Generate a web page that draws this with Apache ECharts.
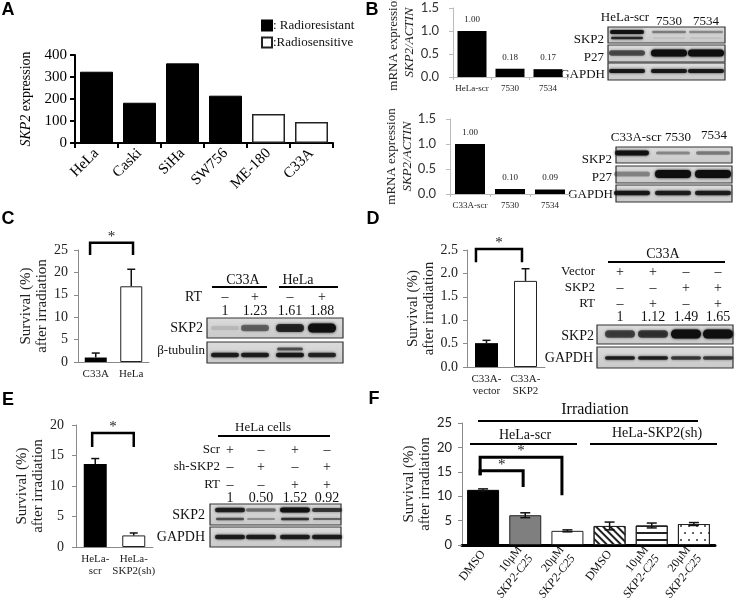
<!DOCTYPE html>
<html><head><meta charset="utf-8">
<script src="https://cdn.jsdelivr.net/npm/echarts@6/dist/echarts.min.js"></script>
<style>html,body{margin:0;padding:0;background:#fff}#c{width:737px;height:598px}</style>
</head><body><div id="c"></div><script>
// ---------------- data ----------------
const aCells = ['HeLa','Caski','SiHa','SW756','ME-180','C33A'];
const aResistant = [324, 183, 362, 215, '-', '-'];
const aSensitive = ['-', '-', '-', '-', 132, 95];

const b1Cats = ['HeLa-scr','7530','7534'];
const b1Vals = [1.00, 0.18, 0.17];
const b2Cats = ['C33A-scr','7530','7534'];
const b2Vals = [1.00, 0.10, 0.09];

const cCats = ['C33A','HeLa'];
const cVals = [1.0, 16.9];
const cErr  = [1.0, 3.8];

const dCats = ['C33A-\nvector','C33A-\nSKP2'];
const dVals = [0.51, 1.84];
const dErr  = [0.06, 0.26];

const eCats = ['HeLa-\nscr','HeLa-\nSKP2(sh)'];
const eVals = [13.6, 1.9];
const eErr  = [0.9, 0.4];

const fCats = ['DMSO','10μM|SKP2-C25','20μM|SKP2-C25','DMSO ','10μM|SKP2-C25 ','20μM|SKP2-C25  '];
const fVals = [11.3, 6.1, 2.9, 3.9, 4.0, 4.3];
const fErr  = [0.2, 0.5, 0.2, 0.8, 0.5, 0.3];

// significance brackets: [cat1, cat2, top, leg1, leg2, offset1, offset2]
const cSig = [[0, 1, 26.6, 23.9, 23.9, -0.16, 0.05]];
const dSig = [[0, 1, 2.52, 2.24, 2.24, -0.27, -0.09]];
const eSig = [[0, 1, 18.7, 16.4, 16.4, -0.08, 0.0]];
const fSig = [[0, 2, 18.0, 14.3, 10.2, -0.07, -0.13], [0, 1, 15.2, 14.3, 11.9, -0.07, -0.05]];

// western blot annotations
const b1Lanes = ['HeLa-scr','7530','7534'];
const b2Lanes = ['C33A-scr','7530','7534'];
const cGroups = ['C33A','HeLa'];
const cRT = ['–','+','–','+'];
const cQuant = ['1','1.23','1.61','1.88'];
const dVector = ['+','+','–','–'];
const dSKP2 = ['–','–','+','+'];
const dRT = ['–','+','–','+'];
const dQuant = ['1','1.12','1.49','1.65'];
const eScr = ['+','–','+','–'];
const eSh = ['–','+','–','+'];
const eRT = ['–','–','+','+'];
const eQuant = ['1','0.50','1.52','0.92'];

// band intensities (0-1)
const b1SKP2 = [0.95, 0.4, 0.35], b1SKP2low = [0.8, 0.08, 0.08], b1P27 = [0.6, 1, 1], b1GAPDH = [0.9, 0.9, 0.9];
const b2SKP2 = [0.95, 0.35, 0.4], b2P27 = [0.35, 1, 1], b2GAPDH = [0.9, 0.85, 0.85];
const cSKP2b = [0.12, 0.5, 0.8, 1], cTub = [0.85, 0.85, 0.9, 0.8], cTubUp = [0, 0, 0.6, 0];
const dSKP2b = [0.65, 0.7, 1, 1], dGAPDH = [0.85, 0.85, 0.7, 0.7];
const eSKP2up = [0.85, 0.45, 0.95, 0.7], eSKP2low = [0.6, 0.3, 0.75, 0.5], eGAPDH = [0.85, 0.85, 0.85, 0.85];

// ---------------- style ----------------
const SERIF = '"Liberation Serif","Times New Roman",serif';
const SANS = 'Lato,"Liberation Sans",sans-serif';
const BOLD = '"Liberation Sans",Arial,sans-serif';

function grid(l, t, w, h) { return {left: l, top: t, width: w, height: h, containLabel: false, outerBoundsMode: 'none'}; }

const grids = [
  grid(75, 55, 258, 88),    // A
  grid(453, 8, 114, 69),    // B1
  grid(450, 119, 120, 75),  // B2
  grid(78, 250, 71, 112),   // C
  grid(467, 250, 78, 117),  // D
  grid(76, 425, 77, 122),   // E
  grid(462, 423, 253, 122)  // F
];

const gray = '#8a8a8a';
function xCat(gi, data, extra) {
  return Object.assign({type: 'category', gridIndex: gi, data: data,
    axisLine: {lineStyle: {color: gray, width: 1}},
    axisTick: {show: false},
    axisLabel: {fontFamily: SERIF, fontSize: 11, color: '#222', margin: 6, lineHeight: 12, interval: 0}
  }, extra || {});
}
function yVal(gi, min, max, interval, extra) {
  return Object.assign({type: 'value', gridIndex: gi, min: min, max: max, interval: interval,
    splitLine: {show: false},
    axisLine: {show: true, lineStyle: {color: gray, width: 1}},
    axisTick: {show: true, length: 4, lineStyle: {color: gray}},
    axisLabel: {fontFamily: SERIF, fontSize: 14, color: '#222', margin: 8}
  }, extra || {});
}
const survName = {
  name: 'Survival (%)\nafter irradiation', nameLocation: 'middle', nameRotate: 90,
  nameTextStyle: {fontFamily: SERIF, fontSize: 15, color: '#222', lineHeight: 16}
};

const xAxes = [
  xCat(0, aCells, {
    axisLine: {lineStyle: {color: '#000', width: 2}},
    axisTick: {show: true, length: 5, lineStyle: {color: '#000', width: 2}},
    axisLabel: {fontFamily: SERIF, fontSize: 15, color: '#000', rotate: 45, margin: 8, interval: 0}
  }),
  xCat(1, b1Cats, {axisLine: {lineStyle: {color: '#bbb'}}, axisTick: {show: true, length: 3, lineStyle: {color: '#bbb'}},
    axisLabel: {fontFamily: SERIF, fontSize: 9, color: '#222', margin: 7, interval: 0}}),
  xCat(2, b2Cats, {axisLine: {lineStyle: {color: '#bbb'}}, axisTick: {show: true, length: 3, lineStyle: {color: '#bbb'}},
    axisLabel: {fontFamily: SERIF, fontSize: 9, color: '#222', margin: 7, interval: 0}}),
  xCat(3, cCats),
  xCat(4, dCats),
  xCat(5, eCats),
  xCat(6, fCats, {
    axisLine: {lineStyle: {color: '#000', width: 3}},
    axisLabel: {rotate: 52, margin: 7, interval: 0,
      formatter: v => { const p = v.trim().split('|'); return p.length > 1 ? '{n|' + p[0] + '}\n{i|' + p[1] + '}' : '{n|' + p[0] + '}'; },
      rich: {n: {fontFamily: SERIF, fontSize: 12, color: '#111', lineHeight: 14}, i: {fontFamily: SERIF, fontSize: 12, fontStyle: 'italic', color: '#111', lineHeight: 14}}}
  })
];

const yAxes = [
  yVal(0, 0, 400, 100, {
    axisLine: {show: true, lineStyle: {color: '#000', width: 2}},
    axisTick: {show: true, length: 5, lineStyle: {color: '#000', width: 2}},
    axisLabel: {fontFamily: SERIF, fontSize: 15, color: '#000', margin: 8},
    name: '{i|SKP2} {n|expression}', nameLocation: 'middle', nameRotate: 90, nameGap: 42,
    nameTextStyle: {rich: {i: {fontFamily: SERIF, fontSize: 14, fontStyle: 'italic', color: '#000'}, n: {fontFamily: SERIF, fontSize: 14, color: '#000'}}}
  }),
  yVal(1, 0, 1.5, 0.5, {
    axisLine: {show: true, lineStyle: {color: '#bbb'}}, axisTick: {show: true, length: 4, lineStyle: {color: '#bbb'}},
    axisLabel: {fontFamily: SANS, fontSize: 13, color: '#333', margin: 14, formatter: v => v.toFixed(1)},
    name: '{n|mRNA expression}\n{i|SKP2/ACTIN}', nameLocation: 'middle', nameRotate: 90, nameGap: 35,
    nameTextStyle: {rich: {n: {fontFamily: SERIF, fontSize: 13, color: '#222', lineHeight: 16}, i: {fontFamily: SERIF, fontSize: 13, fontStyle: 'italic', color: '#222', lineHeight: 16}}}
  }),
  yVal(2, 0, 1.5, 0.5, {
    axisLine: {show: true, lineStyle: {color: '#bbb'}}, axisTick: {show: true, length: 4, lineStyle: {color: '#bbb'}},
    axisLabel: {fontFamily: SANS, fontSize: 13, color: '#333', margin: 14, formatter: v => v.toFixed(1)},
    name: '{n|mRNA expression}\n{i|SKP2/ACTIN}', nameLocation: 'middle', nameRotate: 90, nameGap: 33,
    nameTextStyle: {rich: {n: {fontFamily: SERIF, fontSize: 13, color: '#222', lineHeight: 16}, i: {fontFamily: SERIF, fontSize: 13, fontStyle: 'italic', color: '#222', lineHeight: 16}}}
  }),
  yVal(3, 0, 25, 5, Object.assign({nameGap: 26, axisLabel: {fontFamily: SERIF, fontSize: 14, color: '#222', margin: 10}}, survName)),
  yVal(4, 0, 2.5, 0.5, Object.assign({nameGap: 28, axisLabel: {fontFamily: SERIF, fontSize: 14, color: '#222', margin: 9, formatter: v => v.toFixed(1)}}, survName)),
  yVal(5, 0, 20, 5, Object.assign({nameGap: 28, axisLabel: {fontFamily: SERIF, fontSize: 14, color: '#222', margin: 12}}, survName)),
  yVal(6, 0, 25, 5, Object.assign({nameGap: 26, axisLabel: {fontFamily: SANS, fontSize: 13, color: '#222', margin: 10}}, survName))
];

// ---------------- helpers ----------------
function errorSeries(gi, vals, errs, twoSided, cap) {
  return {type: 'custom', xAxisIndex: gi, yAxisIndex: gi, z: 3, silent: true,
    data: vals.map((v, i) => [i, v, errs[i]]),
    renderItem(params, api) {
      const i = api.value(0), v = api.value(1), e = api.value(2);
      const top = api.coord([i, v + e]);
      const base = api.coord([i, twoSided ? v - e : v]);
      const st = {stroke: '#111', lineWidth: 1.5};
      const ch = [
        {type: 'line', shape: {x1: top[0], y1: top[1], x2: base[0], y2: base[1]}, style: st},
        {type: 'line', shape: {x1: top[0] - cap, y1: top[1], x2: top[0] + cap, y2: top[1]}, style: st}
      ];
      if (twoSided) ch.push({type: 'line', shape: {x1: base[0] - cap, y1: base[1], x2: base[0] + cap, y2: base[1]}, style: st});
      return {type: 'group', children: ch};
    }};
}
function bracketSeries(gi, items, lw) {
  return {type: 'custom', xAxisIndex: gi, yAxisIndex: gi, z: 4, clip: false, silent: true,
    data: items,
    renderItem(params, api) {
      const i1 = api.value(0), i2 = api.value(1), top = api.value(2), l1 = api.value(3), l2 = api.value(4), o1 = api.value(5), o2 = api.value(6);
      const bw = api.size([1, 0])[0];
      const a = api.coord([i1, top]), ab = api.coord([i1, l1]);
      const b = api.coord([i2, top]), bb = api.coord([i2, l2]);
      const x1 = a[0] + o1 * bw, x2 = b[0] + o2 * bw;
      return {type: 'group', children: [
        {type: 'polyline', shape: {points: [[x1, ab[1]], [x1, a[1]], [x2, b[1]], [x2, bb[1]]]}, style: {stroke: '#000', lineWidth: lw, fill: null}},
        {type: 'text', x: (x1 + x2) / 2, y: a[1] - 6, style: {text: '*', font: '15px ' + SERIF, fill: '#222', align: 'center', verticalAlign: 'middle'}}
      ]};
    }};
}
const blackItem = {color: '#000'};
const whiteItem = {color: '#fff', borderColor: '#222', borderWidth: 1};

// ---------------- graphics (blots & annotations) ----------------
const G = [];
function txt(t, x, y, size, align, extra) {
  G.push(Object.assign({type: 'text', x: x, y: y, silent: true,
    style: Object.assign({text: t, font: size + 'px ' + SERIF, fill: '#111', align: align || 'center', verticalAlign: 'middle'}, extra || {})}));
}
function hline(x1, x2, y, w) {
  G.push({type: 'line', silent: true, shape: {x1: x1, y1: y, x2: x2, y2: y}, style: {stroke: '#000', lineWidth: w || 2}});
}
function letter(t, x, y) {
  G.push({type: 'text', x: x, y: y, silent: true, style: {text: t, font: 'bold 18px ' + BOLD, fill: '#000', align: 'center', verticalAlign: 'middle'}});
}
function box(x, y, w, h) {
  G.push({type: 'rect', silent: true, shape: {x: x, y: y, width: w, height: h},
    style: {fill: new echarts.graphic.LinearGradient(0, 0, 0, 1, [{offset: 0, color: '#dcdcdc'}, {offset: 1, color: '#c9c9c9'}]), stroke: '#333', lineWidth: 1.2}});
}
function bands(lanes, y, vals, bw, th) {
  vals.forEach((v, i) => {
    if (v <= 0) return;
    const t = th * (0.45 + 0.55 * v);
    G.push({type: 'rect', silent: true, shape: {x: lanes[i] - bw / 2, y: y - t / 2, width: bw, height: t, r: t / 2},
      style: {fill: 'rgba(15,15,15,' + v + ')', shadowBlur: 3, shadowColor: 'rgba(15,15,15,' + v + ')'}});
  });
}

letter('A', 8, 10); letter('B', 372, 10); letter('C', 8, 219); letter('D', 373, 219); letter('E', 8, 400); letter('F', 374, 399);

// B blot 1
const b1X = [627, 669, 706];
txt(b1Lanes[0], 625, 18, 13); txt(b1Lanes[1], 669, 22, 13); txt(b1Lanes[2], 706, 22, 13);
box(608, 27, 117, 16); box(608, 45, 117, 17); box(608, 63, 117, 17);
bands(b1X, 32, b1SKP2, 34, 4); bands(b1X, 38, b1SKP2low, 32, 3);
bands(b1X, 53, b1P27, 36, 7); bands(b1X, 71, b1GAPDH, 36, 4);
txt('SKP2', 604, 40, 13, 'right'); txt('P27', 604, 58, 13, 'right'); txt('GAPDH', 605, 75, 13, 'right');

// B blot 2
const b2X = [632, 673, 713];
txt(b2Lanes[0], 636, 138, 13); txt(b2Lanes[1], 678, 138, 13); txt(b2Lanes[2], 714, 136, 13);
box(616, 147, 116, 16); box(616, 166, 116, 17); box(616, 185, 116, 17);
bands(b2X, 153, b2SKP2, 34, 5);
bands(b2X, 174, b2P27, 36, 8); bands(b2X, 193, b2GAPDH, 36, 5);
txt('SKP2', 612, 160, 13, 'right'); txt('P27', 612, 178, 13, 'right'); txt('GAPDH', 613, 195, 13, 'right');

// C blot
const cX = [225, 255, 290, 322];
txt(cGroups[0], 243, 280, 14); txt(cGroups[1], 298, 280, 14);
hline(212, 267, 287); hline(279, 338, 287);
txt('RT', 202, 297, 14, 'right');
cRT.forEach((s, i) => txt(s, cX[i], 297, 14));
cQuant.forEach((s, i) => txt(s, cX[i], 311, 14));
box(207, 318, 136, 20); box(207, 342, 136, 21);
bands(cX, 328, cSKP2b, 28, 9);
bands(cX, 355, cTub, 28, 5); bands(cX, 349, cTubUp, 26, 4);
txt('SKP2', 203, 328, 14, 'right'); txt('β-tubulin', 205, 351, 13, 'right');

// D blot
const dX = [620, 653, 686, 718];
txt('C33A', 663, 254, 14); hline(608, 725, 262);
txt('Vector', 595, 272, 13, 'right'); txt('SKP2', 595, 288, 13, 'right'); txt('RT', 595, 304, 13, 'right');
dVector.forEach((s, i) => txt(s, dX[i], 272, 14));
dSKP2.forEach((s, i) => txt(s, dX[i], 288, 14));
dRT.forEach((s, i) => txt(s, dX[i], 304, 14));
dQuant.forEach((s, i) => txt(s, dX[i], 317, 14));
box(597, 325, 136, 19); box(597, 347, 136, 21);
bands(dX, 334, dSKP2b, 30, 9); bands(dX, 358, dGAPDH, 30, 4);
txt('SKP2', 594, 336, 14, 'right'); txt('GAPDH', 593, 358, 14, 'right');

// E blot
const eX = [230, 261, 295, 327];
txt('HeLa cells', 263, 428, 13); hline(218, 330, 436);
txt('Scr', 220, 450, 13, 'right'); txt('sh-SKP2', 220, 467, 13, 'right'); txt('RT', 220, 485, 13, 'right');
eScr.forEach((s, i) => txt(s, eX[i], 450, 14));
eSh.forEach((s, i) => txt(s, eX[i], 467, 14));
eRT.forEach((s, i) => txt(s, eX[i], 485, 14));
eQuant.forEach((s, i) => txt(s, eX[i], 498, 14));
box(210, 504, 131, 21); box(210, 527, 131, 20);
bands(eX, 510, eSKP2up, 30, 5); bands(eX, 519, eSKP2low, 28, 3);
bands(eX, 537, eGAPDH, 30, 5);
txt('SKP2', 205, 515, 14, 'right'); txt('GAPDH', 205, 537, 14, 'right');

// F group annotations
txt('Irradiation', 595, 410, 16); hline(478, 698, 421);
txt('HeLa-scr', 525, 435, 14); hline(470, 577, 444);
txt('HeLa-SKP2(sh)', 657, 433, 14); hline(590, 717, 444);

// ---------------- series ----------------
const labelTop = {show: true, position: 'top', distance: 7, fontFamily: SERIF, fontSize: 9, color: '#222', formatter: p => p.value.toFixed(2)};
const series = [
  {type: 'bar', name: 'Radioresistant', xAxisIndex: 0, yAxisIndex: 0, data: aResistant, barWidth: 33, barGap: '-100%', itemStyle: {color: '#000', borderColor: '#000', borderWidth: 1}},
  {type: 'bar', name: 'Radiosensitive', xAxisIndex: 0, yAxisIndex: 0, data: aSensitive, barWidth: 33, barGap: '-100%', itemStyle: {color: '#fff', borderColor: '#222', borderWidth: 1.5}},
  {type: 'bar', xAxisIndex: 1, yAxisIndex: 1, data: b1Vals, barWidth: 29, itemStyle: blackItem, label: labelTop},
  {type: 'bar', xAxisIndex: 2, yAxisIndex: 2, data: b2Vals, barWidth: 30, itemStyle: blackItem, label: labelTop},
  {type: 'bar', xAxisIndex: 3, yAxisIndex: 3, barWidth: 22, data: cVals.map((v, i) => ({value: v, itemStyle: i ? whiteItem : blackItem}))},
  errorSeries(3, cVals, cErr, false, 4),
  bracketSeries(3, cSig, 2.5),
  {type: 'bar', xAxisIndex: 4, yAxisIndex: 4, barWidth: 23, data: dVals.map((v, i) => ({value: v, itemStyle: i ? whiteItem : blackItem}))},
  errorSeries(4, dVals, dErr, false, 4),
  bracketSeries(4, dSig, 2.5),
  {type: 'bar', xAxisIndex: 5, yAxisIndex: 5, barWidth: 23, data: eVals.map((v, i) => ({value: v, itemStyle: i ? whiteItem : blackItem}))},
  errorSeries(5, eVals, eErr, false, 4),
  bracketSeries(5, eSig, 2.5),
  {type: 'bar', xAxisIndex: 6, yAxisIndex: 6, barWidth: 32, data: fVals.map((v, i) => {
    const base = {color: '#fff', borderColor: '#222', borderWidth: 1};
    const styles = [
      {color: '#000', borderColor: '#000', borderWidth: 1},
      {color: '#7f7f7f', borderColor: '#222', borderWidth: 1},
      base,
      Object.assign({}, base, {decal: {symbol: 'rect', symbolSize: 1, color: '#222', dashArrayX: [1, 0], dashArrayY: [1.2, 2.8], rotation: Math.PI / 4}}),
      Object.assign({}, base, {decal: {symbol: 'rect', symbolSize: 1, color: '#222', dashArrayX: [1, 0], dashArrayY: [1.2, 4.5], rotation: 0}}),
      Object.assign({}, base, {decal: {symbol: 'circle', symbolSize: 1, color: '#333', dashArrayX: [[2, 6], [0, 4, 2, 2]], dashArrayY: [2, 5], rotation: 0}})
    ];
    return {value: v, itemStyle: styles[i]};
  })},
  errorSeries(6, fVals, fErr, true, 5),
  bracketSeries(6, fSig, 3)
];

const chart = echarts.init(document.getElementById('c'), null, {renderer: 'canvas', width: 737, height: 598});
chart.setOption({
  animation: false,
  backgroundColor: '#fff',
  grid: grids,
  xAxis: xAxes,
  yAxis: yAxes,
  legend: {
    data: ['Radioresistant', 'Radiosensitive'], orient: 'vertical', left: 256, top: 14,
    itemWidth: 10, itemHeight: 10, itemGap: 4, icon: 'rect',
    formatter: n => n === 'Radioresistant' ? ': Radioresistant' : ':Radiosensitive',
    textStyle: {fontFamily: SERIF, fontSize: 13, color: '#111', padding: [0, 0, 0, -4]}
  },
  graphic: {elements: G},
  series: series
});
</script></body></html>
